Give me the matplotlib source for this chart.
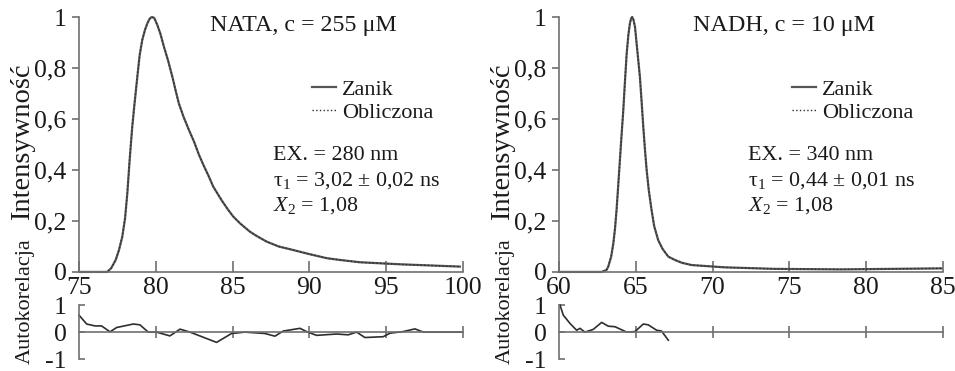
import matplotlib
matplotlib.use("Agg")
import matplotlib.pyplot as plt

plt.rcParams['font.family'] = ['Liberation Serif', 'DejaVu Serif']
plt.rcParams['mathtext.fontset'] = 'custom'
plt.rcParams['mathtext.rm'] = 'Liberation Serif'
plt.rcParams['mathtext.it'] = 'Liberation Serif:italic'

# NATA - zanik fluorescencji (odczyt z wykresu)
nata_t = [75.0, 76.5, 76.84, 77.1, 77.39, 77.6, 77.82, 78.0, 78.15, 78.3, 78.47, 78.6,
          78.80, 78.95, 79.12, 79.3, 79.45, 79.6, 79.73, 79.9, 80.1, 80.3, 80.53, 80.8,
          81.08, 81.3, 81.51, 81.8, 82.16, 82.5, 82.81, 83.1, 83.46, 83.74, 84.3, 84.7,
          85.05, 85.5, 86.13, 86.6, 87.22, 88.0, 88.95, 90.0, 91.13, 92.0, 93.29, 95.9,
          99.8]
nata_i = [0.0, 0.0, 0.0, 0.015, 0.047, 0.085, 0.138, 0.21, 0.31, 0.44, 0.57, 0.65,
          0.766, 0.85, 0.91, 0.95, 0.975, 0.993, 1.0, 0.997, 0.969, 0.935, 0.884, 0.83,
          0.766, 0.71, 0.66, 0.61, 0.557, 0.51, 0.46, 0.42, 0.374, 0.335, 0.28, 0.245,
          0.217, 0.19, 0.158, 0.14, 0.119, 0.10, 0.086, 0.07, 0.054, 0.047, 0.038, 0.030,
          0.021]
nata_rt = [75.0, 75.5, 76.04, 76.47, 77.02, 77.45, 78.54, 78.97, 79.51, 80.05, 80.92,
           81.58, 82.23, 83.96, 84.94, 85.81, 87.1, 87.76, 88.3, 89.39, 89.82, 90.47,
           91.78, 92.53, 93.08, 93.62, 94.81, 95.25, 96.11, 96.88, 97.42, 99.9]
nata_r = [0.63, 0.30, 0.23, 0.23, 0.01, 0.17, 0.30, 0.27, 0.0, 0.0, -0.14,
          0.11, 0.0, -0.38, -0.05, 0.0, -0.05, -0.15, 0.04, 0.14, 0.02, -0.12,
          -0.07, -0.10, 0.0, -0.20, -0.17, -0.04, 0.02, 0.12, 0.0, 0.0]

# NADH
nadh_t = [60.0, 62.5, 62.78, 63.1, 63.21, 63.4, 63.54, 63.65, 63.75, 63.86, 63.97,
          64.08, 64.19, 64.3, 64.41, 64.52, 64.62, 64.7, 64.77, 64.85, 64.95, 65.1,
          65.27, 65.38, 65.49, 65.6, 65.71, 65.85, 66.03, 66.2, 66.46, 66.75, 67.12,
          67.55, 68.0, 68.64, 70.8, 74.06, 78.4, 84.9]
nadh_i = [0.0, 0.0, 0.0, 0.008, 0.021, 0.06, 0.112, 0.17, 0.243, 0.34, 0.44,
          0.54, 0.635, 0.75, 0.857, 0.93, 0.975, 0.995, 1.0, 0.99, 0.962, 0.87,
          0.766, 0.67, 0.57, 0.48, 0.40, 0.32, 0.243, 0.18, 0.125, 0.09, 0.06,
          0.047, 0.036, 0.027, 0.018, 0.012, 0.010, 0.014]
nadh_rt = [60.07, 60.28, 60.72, 61.15, 61.37, 61.69, 62.23, 62.78, 63.21, 63.65,
           64.41, 64.95, 65.49, 65.81, 66.36, 66.68, 67.12]
nadh_r = [1.0, 0.63, 0.32, 0.07, 0.14, 0.0, 0.10, 0.36, 0.22, 0.20,
          0.0, 0.02, 0.30, 0.27, 0.07, 0.04, -0.30]

panels = [
    dict(left=0.0827, t=nata_t, i=nata_i, rt=nata_rt, r=nata_r, xlim=(75, 100),
         title="NATA, c = 255 μM", ex="EX. = 280 nm",
         tau="τ$_1$ = 3,02 ± 0,02 ns", tx=0.341, ex_x=0.505),
    dict(left=0.5853, t=nadh_t, i=nadh_i, rt=nadh_rt, r=nadh_r, xlim=(60, 85),
         title="NADH, c = 10 μM", ex="EX. = 340 nm",
         tau="τ$_1$ = 0,44 ± 0,01 ns", tx=0.349, ex_x=0.492),
]

spine_c = '#707070'
line_c = '#2e2e2e'
txt_c = '#1a1a1a'

fig = plt.figure(figsize=(9.55, 3.71), dpi=100)

for p in panels:
    ax = fig.add_axes([p['left'], 0.267, 0.402, 0.687])
    ax.plot(p['t'], p['i'], color='#555555', lw=1.6, label='Zanik', clip_on=False)
    ax.plot(p['t'], p['i'], color=line_c, lw=1.0, ls=':', label='Obliczona', clip_on=False)
    ax.set_xlim(*p['xlim'])
    ax.set_ylim(0, 1)
    ax.set_xticks(range(p['xlim'][0], p['xlim'][1] + 1, 5))
    ax.set_yticks([0, 0.2, 0.4, 0.6, 0.8, 1])
    ax.set_yticklabels(['0', '0,2', '0,4', '0,6', '0,8', '1'])
    for s in ['top', 'right']:
        ax.spines[s].set_visible(False)
    for s in ['left', 'bottom']:
        ax.spines[s].set_color(spine_c)
        ax.spines[s].set_linewidth(1.2)
    ax.tick_params(axis='x', direction='in', length=8, width=1.2, color=spine_c,
                   labelsize=18.5, pad=4, labelcolor=txt_c)
    ax.tick_params(axis='y', direction='out', length=5, width=1.2, color=spine_c,
                   labelsize=18.5, pad=4, labelcolor=txt_c)
    ax.set_ylabel('Intensywność', fontsize=20.5, color=txt_c)
    ax.yaxis.set_label_coords(-0.115, 0.51)

    ax.text(p['tx'], 0.965, p['title'], transform=ax.transAxes, fontsize=17.3,
            va='center', ha='left', color=txt_c)
    ax.text(p['ex_x'], 0.455, p['ex'], transform=ax.transAxes, fontsize=15.8,
            va='center', ha='left', color=txt_c)
    ax.text(p['ex_x'], 0.357, p['tau'], transform=ax.transAxes, fontsize=15.8,
            va='center', ha='left', color=txt_c)
    ax.text(p['ex_x'], 0.262, "$X_2$ = 1,08", transform=ax.transAxes, fontsize=15.8,
            va='center', ha='left', color=txt_c)
    leg = ax.legend(loc='upper left', bbox_to_anchor=(0.607, 0.755), frameon=False,
                    fontsize=16, borderpad=0, borderaxespad=0, handlelength=1.1,
                    handletextpad=0.25, labelspacing=0.1)
    for t in leg.get_texts():
        t.set_color(txt_c)

    # autokorelacja
    ar = fig.add_axes([p['left'], 0.032, 0.402, 0.1456])
    ar.plot(p['rt'], p['r'], color=line_c, lw=1.2, clip_on=False)
    ar.set_xlim(*p['xlim'])
    ar.set_ylim(-1, 1)
    ar.set_xticks(range(p['xlim'][0] + 5, p['xlim'][1] + 1, 5))
    ar.set_yticks([-1, 0, 1])
    ar.set_yticklabels(['-1', '0', '1'])
    ar.spines['top'].set_visible(False)
    ar.spines['right'].set_visible(False)
    ar.spines['bottom'].set_position(('data', 0))
    for s in ['left', 'bottom']:
        ar.spines[s].set_color(spine_c)
        ar.spines[s].set_linewidth(1.2)
    ar.tick_params(axis='x', direction='inout', length=9, width=1.2, color=spine_c,
                   labelbottom=False)
    ar.tick_params(axis='y', direction='in', length=4, width=1.2, color=spine_c,
                   labelsize=18.5, pad=9, labelcolor=txt_c)
    ar.set_ylabel('Autokorelacja', fontsize=16, color=txt_c)
    ar.yaxis.set_label_coords(-0.115, 1.08)

fig.savefig('out.png', dpi=100)
